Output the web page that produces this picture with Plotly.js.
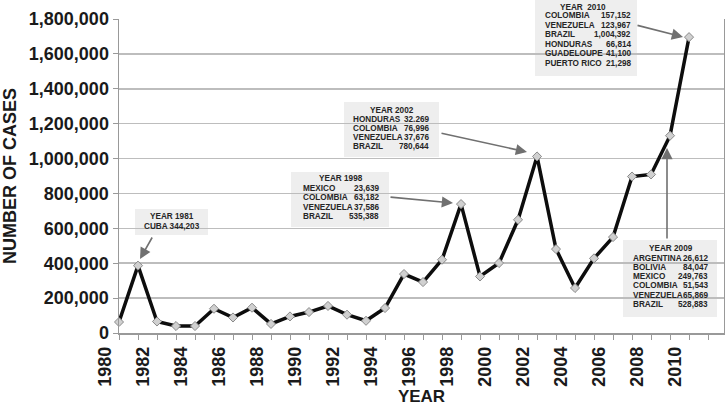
<!DOCTYPE html>
<html>
<head>
<meta charset="utf-8">
<script src="https://cdn.plot.ly/plotly-3.0.1.min.js"></script>
<style>html,body{margin:0;padding:0;background:#fff;overflow:hidden;}#chart{width:725px;height:409px;}</style>
</head>
<body>
<div id="chart"></div>
<script>
// ---- data ----
const years = [1980,1981,1982,1983,1984,1985,1986,1987,1988,1989,1990,1991,1992,1993,1994,1995,1996,1997,1998,1999,2000,2001,2002,2003,2004,2005,2006,2007,2008,2009,2010];
const cases = [63000,386000,66000,40000,40000,139000,89000,145000,52000,95000,120000,155000,105000,70000,143000,338000,292000,420000,739000,324000,401000,649000,1012000,481000,258000,428000,550000,897000,909000,1131000,1696000];

const note1981Lines = ['YEAR 1981', 'CUBA 344,203'];
const note1998Title = 'YEAR 1998';
const note1998Names = ['MEXICO', 'COLOMBIA', 'VENEZUELA', 'BRAZIL'];
const note1998Values = ['23,639', '63,182', '37,586', '535,388'];
const note2002Title = 'YEAR 2002';
const note2002Names = ['HONDURAS', 'COLOMBIA', 'VENEZUELA', 'BRAZIL'];
const note2002Values = ['32.269', '76,996', '37,676', '780,644'];
const note2010Title = 'YEAR  2010';
const note2010Names = ['COLOMBIA', 'VENEZUELA', 'BRAZIL', 'HONDURAS', 'GUADELOUPE', 'PUERTO RICO'];
const note2010Values = ['157,152', '123,967', '1,004,392', '66,814', '41,100', '21,298'];
const note2009Title = 'YEAR 2009';
const note2009Names = ['ARGENTINA', 'BOLIVIA', 'MEXICO', 'COLOMBIA', 'VENEZUELA', 'BRAZIL'];
const note2009Values = ['26,612', '84,047', '249,763', '51,543', '65,869', '528,883'];

// ---- layout helpers (pixel -> paper) ----
const X0 = 119, PW = 605, Y0 = 333, PH = 314;
const px = x => (x - X0) / PW;
const py = y => (Y0 - y) / PH;
const FONT = '"Liberation Sans", Arial, sans-serif';
const noteFont = {family: FONT, size: 8.2, color: '#262626', weight: 'bold'};

const shapes = [];
const annotations = [];

function box(x1, x2, y1, y2) {
  shapes.push({type: 'rect', xref: 'paper', yref: 'paper', layer: 'below',
    x0: px(x1), x1: px(x2), y0: py(y2), y1: py(y1),
    fillcolor: '#eeeeee', line: {width: 0}});
}
function label(text, x, y, anchor) {
  annotations.push({xref: 'paper', yref: 'paper', x: px(x), y: py(y), text: text,
    showarrow: false, xanchor: anchor, yanchor: 'middle', borderpad: 0, font: noteFont});
}
function arrow(tx, ty, hx, hy) {
  annotations.push({xref: 'paper', yref: 'paper', x: px(hx), y: py(hy), text: '',
    showarrow: true, ax: tx - hx, ay: ty - hy, arrowhead: 2, arrowsize: 1.4,
    arrowwidth: 1.6, arrowcolor: '#707070'});
}
function table(title, names, values, cx, ty, left, right, y0, step) {
  label(title, cx, ty, 'center');
  names.forEach((n, i) => {
    label(n, left, y0 + i * step, 'left');
    label(values[i], right, y0 + i * step, 'right');
  });
}

// 1981
box(135, 208, 209, 235);
note1981Lines.forEach((t, i) => label(t, 171.5, 216.7 + i * 9.4, 'center'));
arrow(153, 236, 140, 259);
// 1998
box(291, 389, 172, 227);
table(note1998Title, note1998Names, note1998Values, 341, 178.5, 302, 380, 188.5, 9.3);
arrow(389, 197, 453, 203);
// 2002
box(344, 439, 102, 157);
table(note2002Title, note2002Names, note2002Values, 392, 110, 352, 430, 119.2, 9.2);
arrow(440, 133, 527, 152);
// 2010
box(535, 637, 0, 76);
table(note2010Title, note2010Names, note2010Values, 583, 7.3, 543.5, 631.5, 15.9, 9.5);
arrow(636, 25, 683, 37);
// 2009
box(623, 717, 240, 317);
table(note2009Title, note2009Names, note2009Values, 671, 248.3, 631.5, 709, 258, 9.3);
arrow(667, 240, 667, 148);

const trace = {
  x: years, y: cases, type: 'scatter', mode: 'lines+markers', cliponaxis: false,
  line: {color: '#0d0d0d', width: 3.5},
  marker: {symbol: 'diamond', size: 7, color: '#d0d0d0', line: {color: '#8a8a8a', width: 1}},
  hoverinfo: 'skip'
};

const layout = {
  width: 725, height: 409,
  margin: {l: X0, r: 1, t: 19, b: 76},
  paper_bgcolor: '#ffffff', plot_bgcolor: 'rgba(0,0,0,0)',
  showlegend: false,
  font: {family: FONT, color: '#1a1a1a'},
  xaxis: {
    range: [1980, 2011.84], tickmode: 'linear', tick0: 1980, dtick: 2,
    ticks: 'outside', ticklen: 5, tickcolor: '#999999', tickwidth: 1,
    showline: true, linecolor: '#999999', linewidth: 1.5,
    showgrid: false, zeroline: false, tickangle: -90, ticklabelshift: -14,
    tickfont: {family: FONT, size: 18, color: '#1a1a1a', weight: 'bold'},
    minor: {tickmode: 'linear', tick0: 1980, dtick: 1, ticks: 'outside', ticklen: 5, tickcolor: '#999999', showgrid: false},
    title: {text: 'YEAR', standoff: 2, font: {family: FONT, size: 17, color: '#1a1a1a', weight: 'bold'}}
  },
  yaxis: {
    range: [0, 1800000], tickmode: 'linear', tick0: 0, dtick: 200000, tickformat: ',d',
    ticks: 'outside', ticklen: 5, tickcolor: '#999999',
    showline: true, linecolor: '#999999', linewidth: 1.5, mirror: true,
    showgrid: true, gridcolor: '#bdbdbd', gridwidth: 1.5, zeroline: false,
    tickfont: {family: FONT, size: 18, color: '#1a1a1a', weight: 'bold'},
    title: {text: 'NUMBER OF CASES', standoff: 8, font: {family: FONT, size: 18, color: '#1a1a1a', weight: 'bold'}}
  },
  shapes: shapes,
  annotations: annotations
};

Plotly.newPlot('chart', [trace], layout, {displayModeBar: false, staticPlot: true});
</script>
</body>
</html>
